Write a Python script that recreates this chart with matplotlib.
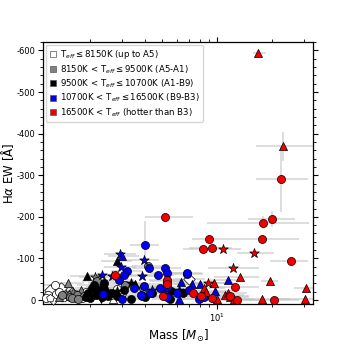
"""H-alpha equivalent width against stellar mass, coloured by Teff bin."""

import matplotlib

matplotlib.use("Agg")
import matplotlib.pyplot as plt
import numpy as np
from matplotlib.lines import Line2D
from matplotlib.ticker import MultipleLocator

plt.rcParams["axes.unicode_minus"] = False

# ---- data: mass [Msun], EW [A], marker, mass lower/upper end of error bar, EW error
red_mass = [16.8, 23.0, 22.3, 19.9, 17.8, 17.6, 9.07, 8.34, 9.35, 10.8, 16.0, 25.6, 12.2,
            13.4, 19.4, 30.8, 30.5, 20.6, 17.6, 12.6, 12.8, 11.0, 11.4, 11.7, 11.8, 10.04,
            12.3, 5.16, 2.73, 5.29, 5.3, 5.03, 7.41, 8.49, 8.7, 8.2, 9.4, 8.95, 9.56]
red_ew = [-594, -370, -291, -195, -186, -146, -146, -122, -126, -123, -114, -93, -78,
          -55, -47, -30, -2, 0, -3, -31, 0, -12, -17, -8, -10, -2,
          -2, -199, -60, -49, -38, -10, -17, -28, -20, -10, -4, -42, -42]
red_mk = ["^", "^", "o", "o", "o", "o", "o", "o", "o", "*", "*", "o", "*",
          "^", "^", "^", "^", "o", "^", "o", "o", "^", "^", "^", "o", "^",
          "^", "o", "o", "o", "o", "o", "o", "^", "^", "o", "o", "*", "^"]
red_mlo = [15.7, 16.3, 16.3, 14.8, 8.8, 10.9, 7.3, 6.5, 7.0, 8.6, 12.8, 19.6, 8.9,
           9.6, 17.5, 26.5, 20.0, 14.0, 12.0, 9.0, 9.0, 8.0, 8.5, 8.5, 9.0, 7.5,
           9.0, 4.0, 2.2, 4.2, 4.2, 4.0, 5.8, 6.5, 6.7, 6.4, 7.2, 6.8, 7.3]
red_mhi = [18.6, 33.5, 31.5, 26.8, 32.0, 28.2, 10.9, 10.0, 12.0, 13.5, 20.5, 31.5, 16.9,
           17.0, 21.5, 33.7, 33.7, 28.0, 25.0, 17.0, 17.0, 14.0, 14.5, 15.0, 15.0, 13.0,
           16.0, 7.4, 3.4, 6.6, 6.6, 6.3, 9.5, 11.0, 11.2, 10.5, 12.0, 11.5, 12.3]
red_ewerr = [5, 35, 80, 19, 15, 10, 10, 8, 14, 5, 5, 5, 5,
             3, 3, 3, 2, 2, 2, 3, 2, 2, 2, 2, 2, 2,
             2, 10, 3, 4, 4, 3, 3, 3, 3, 3, 2, 3, 3]

blue_mass = [3.99, 2.93, 3.0, 3.94, 2.96, 3.21, 3.06, 4.21, 4.74, 5.16, 5.33, 6.87, 5.29,
             2.32, 2.64, 2.9, 3.87, 3.94, 3.51, 4.83, 5.29, 4.28, 6.0, 6.3, 7.3, 8.0,
             9.75, 11.4, 6.8, 7.04, 8.5, 7.9, 6.2, 3.02, 2.37, 5.08, 4.38, 3.82, 5.33]
blue_ew = [-132, -110, -107, -96, -80, -70, -60, -76, -61, -76, -64, -62, -47,
           -60, -58, -49, -59, -33, -29, -30, -32, -18, -16, -44, -38, -38,
           -21, -48, -64, -25, -8, -3, -2, -3, -14, -20, -24, -12, -8]
blue_mk = ["o", "*", "^", "*", "*", "o", "o", "o", "o", "o", "o", "o", "o",
           "*", "*", "o", "*", "o", "o", "o", "o", "o", "o", "^", "^", "^",
           "^", "^", "o", "o", "o", "o", "^", "o", "o", "^", "*", "o", "o"]
blue_mlo = [3.3, 2.4, 2.5, 3.2, 2.4, 2.6, 2.5, 3.4, 3.8, 4.2, 4.3, 5.5, 4.3,
            1.9, 2.1, 2.3, 3.1, 3.2, 2.8, 3.9, 4.3, 3.5, 4.8, 5.0, 5.8, 6.4,
            7.8, 9.1, 5.4, 5.6, 6.8, 6.3, 5.0, 2.4, 1.9, 4.1, 3.5, 3.1, 4.3]
blue_mhi = [4.8, 3.6, 3.7, 4.8, 3.6, 3.9, 3.7, 5.1, 5.8, 6.3, 6.5, 8.4, 6.5,
            2.8, 3.2, 3.5, 4.7, 4.8, 4.3, 5.9, 6.5, 5.2, 7.3, 7.7, 8.9, 9.8,
            12.0, 14.0, 8.3, 8.6, 10.4, 9.7, 7.6, 3.7, 2.9, 6.2, 5.3, 4.7, 6.5]
blue_ewerr = [58, 5, 5, 5, 4, 4, 4, 4, 4, 4, 4, 4, 4,
              3, 3, 3, 3, 3, 3, 3, 3, 3, 3, 3, 3, 3,
              3, 3, 4, 3, 2, 2, 2, 2, 2, 3, 3, 2, 2]

black_mass = [2.83, 1.92, 3.35, 3.54, 1.96, 2.05, 2.11, 2.18, 2.28, 2.35, 2.39, 2.45, 2.31,
              2.32, 2.53, 2.83, 3.08, 3.37, 3.85, 4.38, 5.5, 5.56, 6.2, 6.47, 2.81, 1.91,
              2.0, 2.15, 2.6, 4.0]
black_ew = [-94, -57, -40, -38, -16, -28, -37, -25, -20, -32, -40, -30, -2,
            -8, -10, -10, -24, -2, -10, -16, -2, -22, -24, -18, -22, -8,
            -4, -12, -18, -8]
black_mk = ["^", "^", "*", "^", "o", "o", "o", "o", "o", "o", "o", "^", "v",
            "o", "o", "o", "o", "o", "o", "o", "o", "o", "*", "o", "*", "o",
            "o", "o", "o", "o"]
black_mlo = [2.3, 1.55, 2.7, 2.9, 1.6, 1.65, 1.7, 1.75, 1.85, 1.9, 1.95, 2.0, 1.85,
             1.9, 2.05, 2.3, 2.5, 2.75, 3.1, 3.5, 4.4, 4.5, 5.0, 5.2, 2.3, 1.55,
             1.6, 1.75, 2.1, 3.2]
black_mhi = [3.4, 2.3, 4.0, 4.3, 2.35, 2.5, 2.55, 2.65, 2.75, 2.85, 2.9, 2.95, 2.8,
             2.8, 3.05, 3.4, 3.7, 4.1, 4.7, 5.3, 6.7, 6.7, 7.5, 7.8, 3.4, 2.3,
             2.4, 2.6, 3.15, 4.8]

gray_mass = [1.52, 2.13, 4.17, 1.4, 1.48, 1.55, 1.62, 1.7, 1.78, 1.85, 1.6, 1.35, 2.2,
             2.5, 1.72, 3.1, 3.9]
gray_ew = [-41, -56, -82, -12, -15, -8, -20, -12, -25, -10, -5, -8, -45,
           -15, -3, -35, -28]
gray_mk = ["^", "*", "o", "o", "^", "o", "*", "o", "^", "o", "o", "^", "o",
           "o", "o", "o", "o"]
gray_mlo = [1.25, 1.75, 3.4, 1.15, 1.2, 1.27, 1.33, 1.4, 1.45, 1.5, 1.3, 1.12, 1.8,
            2.05, 1.4, 2.5, 3.2]
gray_mhi = [1.85, 2.6, 5.1, 1.7, 1.8, 1.9, 2.0, 2.1, 2.15, 2.25, 1.95, 1.65, 2.7,
            3.05, 2.1, 3.8, 4.8]

white_mass = [1.28, 1.21, 1.21, 1.3, 1.18, 1.25, 1.35, 1.42, 1.5, 1.6, 1.68, 1.75, 1.82,
              2.81, 2.67, 7.04, 1.15, 1.38, 2.0, 1.9, 2.6, 3.0]
white_ew = [-36, -24, -6, -14, -12, -2, -20, -5, -10, -16, -4, -12, -6,
            -26, -3, -50, -4, -28, -12, -20, -12, -18]
white_mk = ["o", "D", "p", "o", "o", "D", "o", "p", "o", "D", "o", "p", "o",
            "o", "^", "D", "o", "D", "o", "o", "o", "o"]
white_mlo = [1.1, 1.05, 1.05, 1.1, 1.02, 1.08, 1.15, 1.2, 1.27, 1.35, 1.4, 1.45, 1.5,
             2.3, 2.2, 5.7, 1.0, 1.17, 1.65, 1.55, 2.15, 2.45]
white_mhi = [1.5, 1.4, 1.4, 1.52, 1.38, 1.45, 1.6, 1.7, 1.8, 1.9, 2.0, 2.1, 2.2,
             3.4, 3.25, 8.6, 1.33, 1.62, 2.45, 2.3, 3.15, 3.65]

legend_labels = [
    r"T$_{eff}$$\leq$8150K (up to A5)",
    r"8150K < T$_{eff}$$\leq$9500K (A5-A1)",
    r"9500K < T$_{eff}$$\leq$10700K (A1-B9)",
    r"10700K < T$_{eff}$$\leq$16500K (B9-B3)",
    r"16500K < T$_{eff}$ (hotter than B3)",
]
group_colors = ["white", "#808080", "black", "#0000ee", "#ee0000"]


def draw_group(ax, mass, ew, markers, mlo, mhi, ewerr, color):
    mass = np.asarray(mass, float)
    ew = np.asarray(ew, float)
    xerr = [mass - np.asarray(mlo), np.asarray(mhi) - mass]
    yerr = None if ewerr is None else np.asarray(ewerr, float)
    ax.errorbar(mass, ew, xerr=xerr, yerr=yerr, fmt="none", ecolor="#c4c4c4",
                elinewidth=1.1, alpha=0.75, zorder=1)
    markers = np.asarray(markers)
    for m in np.unique(markers):
        sel = markers == m
        size = 52 if m == "*" else 34
        ax.scatter(mass[sel], ew[sel], marker=m, s=size, c=color,
                   edgecolors="black", linewidths=0.5, zorder=3, clip_on=False)


fig = plt.figure(figsize=(3.48, 3.48), dpi=100)
ax = fig.add_axes([0.124, 0.127, 0.776, 0.752])

draw_group(ax, white_mass, white_ew, white_mk, white_mlo, white_mhi, None, group_colors[0])
draw_group(ax, gray_mass, gray_ew, gray_mk, gray_mlo, gray_mhi, None, group_colors[1])
draw_group(ax, black_mass, black_ew, black_mk, black_mlo, black_mhi, None, group_colors[2])
draw_group(ax, blue_mass, blue_ew, blue_mk, blue_mlo, blue_mhi, blue_ewerr, group_colors[3])
draw_group(ax, red_mass, red_ew, red_mk, red_mlo, red_mhi, red_ewerr, group_colors[4])

ax.set_xscale("log")
ax.set_xlim(1.107, 33.7)
ax.set_ylim(9, -620)
ax.yaxis.set_major_locator(MultipleLocator(100))
ax.yaxis.set_minor_locator(MultipleLocator(20))
ax.tick_params(which="both", top=True, right=True, direction="out", labelsize=6)
ax.tick_params(which="major", length=3.5, width=0.8, pad=2)
ax.tick_params(which="minor", length=2, width=0.6)
for s in ax.spines.values():
    s.set_linewidth(0.9)

ax.set_xlabel(r"Mass [$M_{\odot}$]", fontsize=8.5, labelpad=3)
ax.set_ylabel(r"H$\alpha$ EW [Å]", fontsize=8.5)
ax.yaxis.set_label_coords(-0.1, 0.5)

handles = [Line2D([], [], ls="none", marker="s", markersize=4, markerfacecolor=c,
                  markeredgecolor="#555555", markeredgewidth=0.5) for c in group_colors]
ax.legend(handles, legend_labels, loc="upper left", fontsize=6.2, handlelength=0.8,
          handletextpad=0.4, labelspacing=0.22, borderpad=0.4, borderaxespad=0.3,
          framealpha=0.8)

fig.savefig("out.png", dpi=100)
